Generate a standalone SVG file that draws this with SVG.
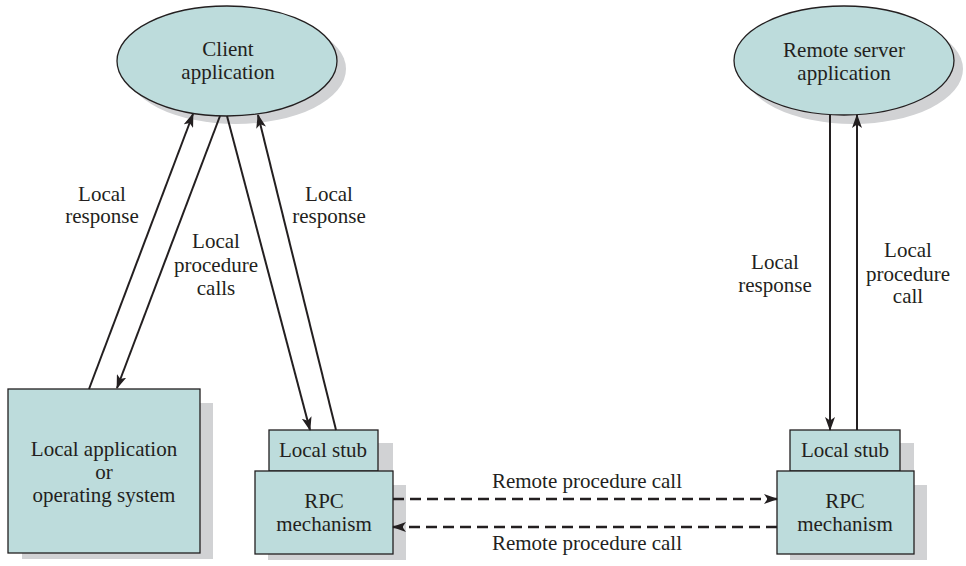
<svg xmlns="http://www.w3.org/2000/svg" width="966" height="566" viewBox="0 0 966 566">
<defs>
<marker id="ah" markerUnits="userSpaceOnUse" markerWidth="14" markerHeight="10" viewBox="0 0 14 10" refX="13" refY="5" orient="auto">
<path d="M0,0 L14,5 L0,10 L3.5,5 Z" fill="#231f20"/>
</marker>
</defs>
<style>
.shadow{fill:#d1d2d4;stroke:none}
.node{fill:#bddcdc;stroke:#231f20;stroke-width:1.3}
text{font-family:"Liberation Serif","Times New Roman",serif;font-size:21px;fill:#231f20;text-anchor:middle}
.arr{stroke:#231f20;stroke-width:2;fill:none;marker-end:url(#ah)}
.line{stroke:#231f20;stroke-width:2;fill:none}
.dash{stroke:#231f20;stroke-width:2.5;fill:none;stroke-dasharray:11 6;marker-end:url(#ah)}
</style>
<rect width="966" height="566" fill="#ffffff"/>

<g id="client-app">
<ellipse class="shadow" cx="236" cy="69" rx="110" ry="55"/>
<ellipse class="node" cx="227" cy="61" rx="110" ry="55"/>
<text x="228" y="56">Client</text>
<text x="228" y="79">application</text>
</g>

<g id="remote-server-app">
<ellipse class="shadow" cx="853" cy="69" rx="110" ry="55"/>
<ellipse class="node" cx="844" cy="60.5" rx="110" ry="54.5"/>
<text x="844" y="57">Remote server</text>
<text x="844" y="80">application</text>
</g>

<g id="local-app">
<rect class="shadow" x="22" y="403" width="191" height="156"/>
<rect class="node" x="8" y="389" width="192" height="164"/>
<text x="104" y="456">Local application</text>
<text x="104" y="479">or</text>
<text x="104" y="502">operating system</text>
</g>

<g id="client-stub">
<rect class="shadow" x="283" y="443" width="110" height="41"/>
<rect class="node" x="269" y="430" width="109" height="41"/>
<text x="323" y="457">Local stub</text>
</g>

<g id="client-rpc">
<rect class="shadow" x="268" y="485" width="138" height="75"/>
<rect class="node" x="255" y="471" width="138" height="83"/>
<text x="324" y="508">RPC</text>
<text x="324" y="531">mechanism</text>
</g>

<g id="server-stub">
<rect class="shadow" x="804" y="443" width="110" height="41"/>
<rect class="node" x="790" y="430" width="110" height="41"/>
<text x="845" y="457">Local stub</text>
</g>

<g id="server-rpc">
<rect class="shadow" x="790" y="485" width="137" height="75"/>
<rect class="node" x="777" y="471" width="137" height="83"/>
<text x="845" y="508">RPC</text>
<text x="845" y="531">mechanism</text>
</g>

<g id="connectors">
<line class="arr" x1="89" y1="389" x2="193" y2="114"/>
<line class="arr" x1="220" y1="116" x2="117" y2="388"/>
<line class="arr" x1="227" y1="116" x2="310" y2="430"/>
<line class="arr" x1="336" y1="430" x2="258" y2="115"/>
<line class="arr" x1="830" y1="115" x2="830" y2="430"/>
<line class="arr" x1="857" y1="430" x2="857" y2="115"/>
<line class="dash" x1="393" y1="499" x2="777" y2="499"/>
<line class="dash" x1="777" y1="527" x2="393" y2="527"/>
</g>

<g id="labels">
<text x="102" y="201">Local</text>
<text x="102" y="223">response</text>
<text x="216" y="248">Local</text>
<text x="216" y="272">procedure</text>
<text x="216" y="295">calls</text>
<text x="329" y="201">Local</text>
<text x="329" y="223">response</text>
<text x="775" y="269">Local</text>
<text x="775" y="292">response</text>
<text x="908" y="257">Local</text>
<text x="908" y="281">procedure</text>
<text x="908" y="303">call</text>
<text x="587" y="488">Remote procedure call</text>
<text x="587" y="550">Remote procedure call</text>
</g>
</svg>
